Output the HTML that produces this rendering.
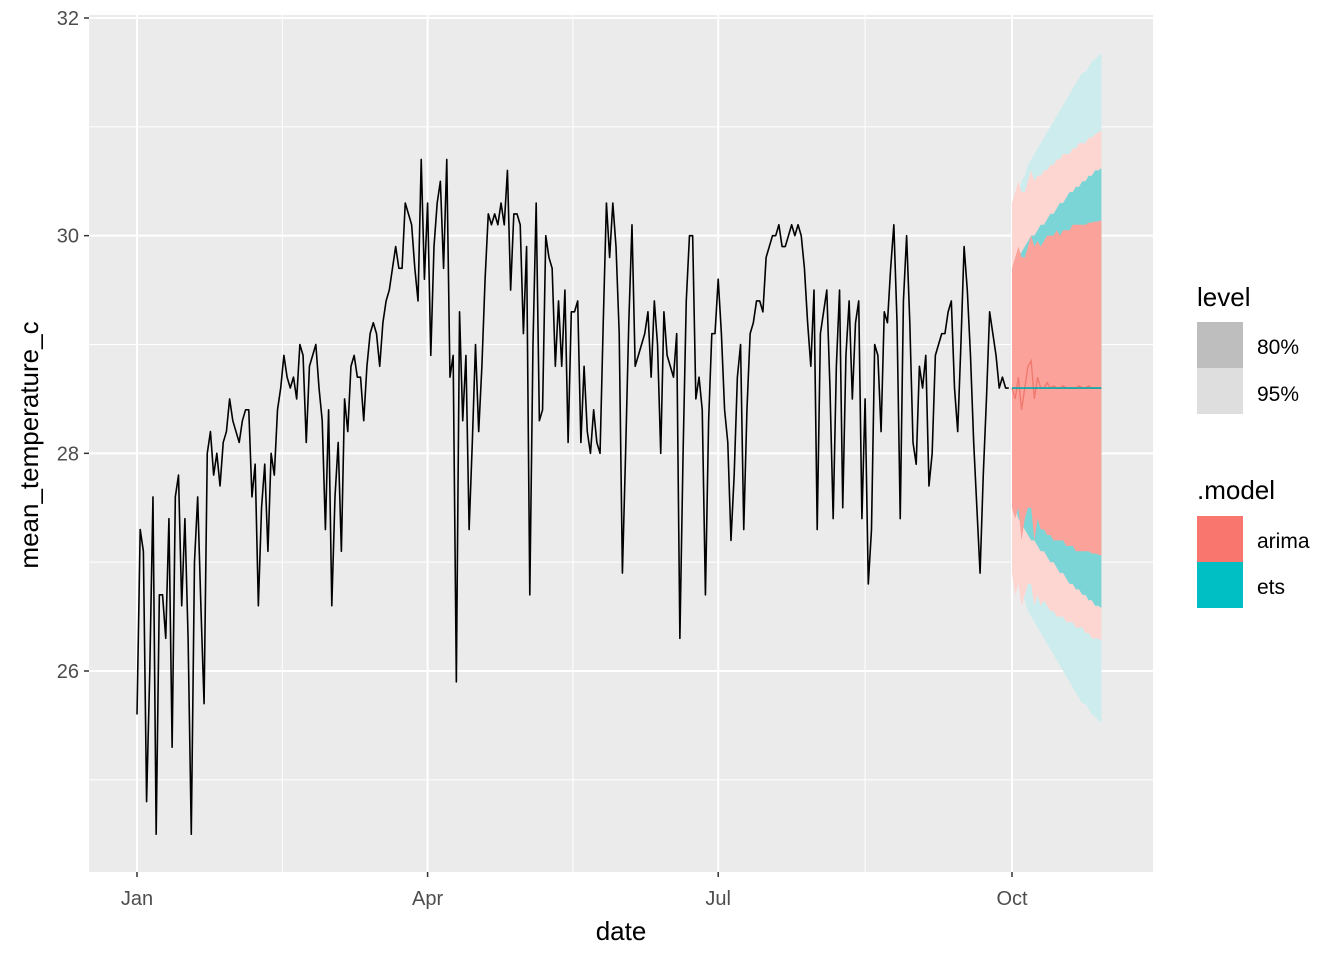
<!DOCTYPE html>
<html><head><meta charset="utf-8"><style>
body{margin:0;background:#fff;font-family:"Liberation Sans",Arial,sans-serif}
svg text{font-family:"Liberation Sans",Arial,sans-serif}
</style></head><body>
<svg id="c" width="1344" height="960" xmlns="http://www.w3.org/2000/svg">
<rect x="89" y="15" width="1064" height="857" fill="#ebebeb"/>
<g id="grid"></g><g id="bands"></g><g id="lines"></g><g id="axes"></g>
<text x="621" y="940" font-size="26" text-anchor="middle" fill="#000">date</text>
<text transform="translate(38,445) rotate(-90)" font-size="26" text-anchor="middle" fill="#000">mean_temperature_c</text>
<g>
<text x="1197" y="306" font-size="26">level</text>
<rect x="1197" y="322" width="46" height="46" fill="#bebebe"/>
<rect x="1197" y="368" width="46" height="46" fill="#dedede"/>
<text x="1257" y="354" font-size="21">80%</text>
<text x="1257" y="401" font-size="21">95%</text>
<text x="1197" y="499" font-size="26">.model</text>
<rect x="1197" y="516" width="46" height="46" fill="#f8766d"/>
<rect x="1197" y="562" width="46" height="46" fill="#00bfc4"/>
<text x="1257" y="548" font-size="21">arima</text>
<text x="1257" y="594" font-size="21">ets</text>
</g>
</svg>
<script>
const history = [25.6,27.3,27.1,24.8,26.0,27.6,24.5,26.7,26.7,26.3,27.4,25.3,27.6,27.8,26.6,27.4,26.3,24.5,27.0,27.6,26.6,25.7,28.0,28.2,27.8,28.0,27.7,28.1,28.2,28.5,28.3,
28.2,28.1,28.3,28.4,28.4,27.6,27.9,26.6,27.5,27.9,27.1,28.0,27.8,28.4,28.6,28.9,28.7,28.6,28.7,28.5,29.0,28.9,28.1,28.8,28.9,29.0,28.6,28.3,27.3,
28.4,26.6,27.6,28.1,27.1,28.5,28.2,28.8,28.9,28.7,28.7,28.3,28.8,29.1,29.2,29.1,28.8,29.2,29.4,29.5,29.7,29.9,29.7,29.7,30.3,30.2,30.1,29.7,29.4,30.7,29.6,
30.3,28.9,29.9,30.3,30.5,29.7,30.7,28.7,28.9,25.9,29.3,28.3,28.9,27.3,28.1,29.0,28.2,28.8,29.6,30.2,30.1,30.2,30.1,30.3,30.1,30.6,29.5,30.2,30.2,30.1,
29.1,29.9,26.7,29.0,30.3,28.3,28.4,30.0,29.8,29.7,28.8,29.4,28.8,29.5,28.1,29.3,29.3,29.4,28.1,28.8,28.2,28.0,28.4,28.1,28.0,29.2,30.3,29.8,30.3,29.9,29.1,
26.9,28.0,29.2,30.1,28.8,28.9,29.0,29.1,29.3,28.7,29.4,29.0,28.0,29.3,28.9,28.8,28.7,29.1,26.3,28.0,29.4,30.0,30.0,28.5,28.7,28.4,26.7,28.3,29.1,29.1,
29.6,29.1,28.4,28.1,27.2,27.8,28.7,29.0,27.3,28.4,29.1,29.2,29.4,29.4,29.3,29.8,29.9,30.0,30.0,30.1,29.9,29.9,30.0,30.1,30.0,30.1,30.0,29.7,29.2,28.8,29.5,
27.3,29.1,29.3,29.5,28.6,27.4,28.8,29.5,27.5,28.9,29.4,28.5,29.2,29.4,27.4,28.5,26.8,27.3,29.0,28.9,28.2,29.3,29.2,29.7,30.1,29.2,27.4,29.4,30.0,29.2,28.1,
27.9,28.8,28.6,28.9,27.7,28.0,28.9,29.0,29.1,29.1,29.3,29.4,28.6,28.2,29.0,29.9,29.5,28.9,28.1,27.5,26.9,27.8,28.5,29.3,29.1,28.9,28.6,28.7,28.6,28.6];
const etsMean = [28.6,28.6,28.6,28.6,28.6,28.6,28.6,28.6,28.6,28.6,28.6,28.6,28.6,28.6,28.6,28.6,28.6,28.6,28.6,28.6,28.6,28.6,28.6,28.6,28.6,28.6,28.6,28.6,28.6];
const etsHi80 = [29.6,29.7,29.8,29.85,29.9,29.95,30.0,30.0,30.05,30.1,30.1,30.15,30.2,30.2,30.25,30.3,30.3,30.35,30.4,30.4,30.45,30.45,30.5,30.5,30.55,30.55,30.6,30.6,30.62];
const etsLo80 = [27.6,27.5,27.4,27.35,27.3,27.25,27.2,27.2,27.15,27.1,27.1,27.05,27.0,27.0,26.95,26.9,26.9,26.85,26.8,26.8,26.75,26.75,26.7,26.7,26.65,26.65,26.6,26.6,26.58];
const etsHi95 = [30.1,30.3,30.4,30.5,30.55,30.65,30.7,30.75,30.8,30.85,30.9,30.95,31.0,31.05,31.1,31.15,31.2,31.25,31.3,31.35,31.4,31.45,31.5,31.5,31.55,31.6,31.62,31.65,31.68];
const etsLo95 = [27.1,26.9,26.8,26.7,26.65,26.55,26.5,26.45,26.4,26.35,26.3,26.25,26.2,26.15,26.1,26.05,26.0,25.95,25.9,25.85,25.8,25.75,25.7,25.7,25.65,25.6,25.58,25.55,25.52];
const arimaMean = [28.6,28.5,28.7,28.4,28.6,28.8,28.85,28.5,28.7,28.6,28.6,28.65,28.6,28.62,28.6,28.6,28.62,28.6,28.6,28.6,28.6,28.62,28.6,28.6,28.62,28.6,28.6,28.6,28.6];
const arimaHi80 = [29.7,29.8,29.9,29.8,29.8,29.9,30.0,29.9,29.95,29.9,29.95,30.0,30.0,30.0,30.05,30.0,30.05,30.05,30.05,30.1,30.1,30.1,30.1,30.1,30.12,30.12,30.13,30.13,30.14];
const arimaLo80 = [27.5,27.4,27.5,27.2,27.4,27.5,27.5,27.2,27.4,27.3,27.3,27.25,27.25,27.2,27.2,27.2,27.2,27.15,27.15,27.15,27.1,27.1,27.1,27.1,27.1,27.08,27.08,27.07,27.06];
const arimaHi95 = [30.3,30.4,30.5,30.4,30.4,30.5,30.6,30.5,30.55,30.55,30.6,30.6,30.65,30.65,30.7,30.7,30.75,30.75,30.75,30.8,30.8,30.85,30.85,30.85,30.9,30.9,30.93,30.95,30.96];
const arimaLo95 = [26.9,26.7,26.8,26.6,26.7,26.8,26.8,26.6,26.7,26.6,26.65,26.6,26.55,26.55,26.5,26.5,26.5,26.45,26.45,26.45,26.4,26.4,26.4,26.35,26.35,26.3,26.3,26.3,26.28];
const yTicks = [26,28,30,32];
const xTickLabels = ["Jan","Apr","Jul","Oct"];
const xTickDays = [0,91,182,274];

const NS="http://www.w3.org/2000/svg";
function X(d){return 137 + d*(1012-137)/274;}
function Y(v){return 18 + (32-v)*(671-18)/6;}
function mk(tag,attrs,parent){const e=document.createElementNS(NS,tag);for(const k in attrs)e.setAttribute(k,attrs[k]);parent.appendChild(e);return e;}
const grid=document.getElementById('grid'),bands=document.getElementById('bands'),lines=document.getElementById('lines'),axes=document.getElementById('axes');
for(const v of [25,27,29,31]){const l=mk('line',{x1:89,x2:1153,y1:Y(v),y2:Y(v),stroke:'#fff','stroke-width':1},grid);

}
for(let i=0;i<xTickDays.length-1;i++){const m=(xTickDays[i]+xTickDays[i+1])/2;const l=mk('line',{x1:X(m),x2:X(m),y1:15,y2:872,stroke:'#fff','stroke-width':1},grid);

}
for(const v of yTicks){const l=mk('line',{x1:89,x2:1153,y1:Y(v),y2:Y(v),stroke:'#fff','stroke-width':2},grid);


const t=mk('line',{x1:84,x2:89,y1:Y(v),y2:Y(v),stroke:'#333','stroke-width':1.5},axes);


const tx=mk('text',{x:79,y:Y(v)+7,'font-size':20,fill:'#4d4d4d','text-anchor':'end'},axes);tx.textContent=v;

}
xTickDays.forEach((d,i)=>{const l=mk('line',{x1:X(d),x2:X(d),y1:15,y2:872,stroke:'#fff','stroke-width':2},grid);


const t=mk('line',{x1:X(d),x2:X(d),y1:872,y2:877,stroke:'#333','stroke-width':1.5},axes);


const tx=mk('text',{x:X(d),y:905,'font-size':20,fill:'#4d4d4d','text-anchor':'middle'},axes);tx.textContent=xTickLabels[i];

});
const f0=history.length;
function band(hi,lo,fill,name){let pts=[];hi.forEach((v,i)=>pts.push(X(f0+i)+','+Y(v)));for(let i=lo.length-1;i>=0;i--)pts.push(X(f0+i)+','+Y(lo[i]));
const p=mk('polygon',{points:pts.join(' '),fill:fill},bands);

}
band(etsHi95,etsLo95,'#cdeced','ets-95-band');
band(arimaHi95,arimaLo95,'#fdd6d2','arima-95-band');
band(etsHi80,etsLo80,'#7bd5d6','ets-80-band');
band(arimaHi80,arimaLo80,'#fba29a','arima-80-band');
const h=mk('polyline',{points:history.map((v,i)=>X(i)+','+Y(v)).join(' '),fill:'none',stroke:'#000','stroke-width':1.6,'stroke-linejoin':'round'},lines);


const a=mk('polyline',{points:arimaMean.map((v,i)=>X(f0+i)+','+Y(v)).join(' '),fill:'none',stroke:'#f07a70','stroke-width':1.4},lines);


const e=mk('polyline',{points:etsMean.map((v,i)=>X(f0+i)+','+Y(v)).join(' '),fill:'none',stroke:'#00a9ad','stroke-width':1.6},lines);


</script>
</body></html>
